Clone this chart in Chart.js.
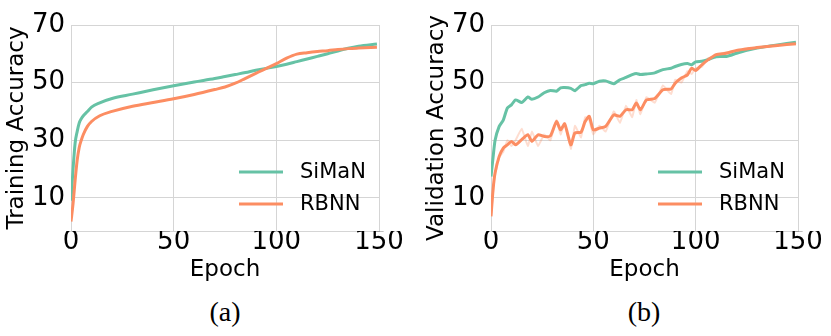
<!DOCTYPE html>
<html>
<head>
<meta charset="utf-8">
<script src="https://cdn.jsdelivr.net/npm/chart.js@4.4.1/dist/chart.umd.min.js"></script>
<style>
  html, body { margin: 0; padding: 0; background: #fff; }
  #wrap { position: relative; width: 831px; height: 336px; overflow: hidden; }
  .panel { position: absolute; top: 0; height: 290px; }
  .caption { position: absolute; top: 296px; width: 100px; text-align: center;
    font: 28px "Liberation Serif", "Times New Roman", serif; color: #000; }
</style>
</head>
<body>
<div id="wrap">
  <div class="panel" style="left:0;width:415px"><canvas id="trainChart" width="415" height="290"></canvas></div>
  <div class="panel" style="left:420px;width:411px"><canvas id="valChart" width="411" height="290"></canvas></div>
  <div class="caption" style="left:175px">(a)</div>
  <div class="caption" style="left:594px">(b)</div>
</div>
<script>
// ---- data ----
const xTicks = [0, 50, 100, 150];
const yTicks = [10, 30, 50, 70];

const trainEpochs = [0, 1, 2, 3, 4, 5, 6, 8, 10, 14, 20, 30, 40, 50, 60, 70, 75, 80, 85, 90,
  100, 105, 110, 115, 120, 125, 130, 135, 140, 149];
const trainSiman = [9, 20, 29, 33, 36, 37.5, 38.5, 40, 41.5, 43, 44.5, 46, 47.5, 48.9, 50.2, 51.4, 52.1, 52.8, 53.5, 54.3,
  55.6, 56.4, 57.3, 58.2, 59.1, 60, 61, 61.9, 62.6, 63.4];
const trainRbnn = [1.8, 8, 16, 23, 27.5, 30, 32, 34.8, 36.5, 38.5, 40, 41.8, 43.1, 44.4, 45.9, 47.6, 48.5, 49.8, 51.5, 53.2,
  56.6, 58.5, 59.9, 60.4, 60.8, 61.1, 61.5, 61.8, 62, 62.3];

const valEpochs = [0, 1, 2, 4, 6, 8, 10, 12, 15, 18, 20, 23, 26, 29, 32, 34, 36, 39, 41, 44,
  46, 48, 50, 53, 56, 60, 63, 66, 69, 71, 73, 76, 80, 84, 88, 90, 93, 96, 98, 100,
  103, 106, 110, 115, 120, 125, 130, 140, 149];
const valSiman = [17.4, 24, 30, 34.8, 37, 41.2, 42.3, 44, 43.1, 45, 44.2, 45, 46.5, 47.3, 47, 48.2, 48.3, 48, 47.2, 49,
  49.3, 49.8, 49.6, 50.5, 50.6, 49.6, 51, 51.8, 52.8, 53.2, 52.8, 53, 53.4, 54.5, 55, 55.6, 56.3, 56.6, 56.2, 57.2,
  57.4, 58, 59, 59.1, 60.2, 61.2, 62, 63.1, 64];
const valRbnn = [3.6, 12.8, 18.7, 24.4, 27.3, 28.4, 29.6, 28.4, 30.2, 31.9, 29.6, 31.9, 31.3, 31.5, 36.5, 33.6, 35.7, 28.4, 32.5, 32.8,
  36.5, 38.3, 33.6, 34.2, 34.8, 38.8, 38.3, 40.6, 40.6, 42.9, 40.6, 44, 44.5, 47.5, 47.8, 49.8, 51.6, 52.7, 55, 54.2,
  56.2, 57.9, 59.7, 60.2, 61.2, 61.7, 62.2, 62.9, 63.5];
// faint raw (unsmoothed) RBNN curve behind the smoothed one
const valRbnnRaw = [3.6, 12, 18, 24, 26, 30, 28, 30, 34, 28, 33, 28, 32, 30, 37, 32, 36, 27, 35, 31,
  38, 37, 32, 35, 33, 40, 36, 42, 38, 44, 39, 45, 43, 49, 46, 51, 50, 54, 53, 55,
  55.5, 58.5, 59.3, 60.6, 60.8, 62, 62, 63.2, 63.3];

const GREEN = "#66c2a5";
const ORANGE = "#fc8d62";
const GRID = "#d5d5d5";

Chart.defaults.font.family = "'DejaVu Sans', sans-serif";
Chart.defaults.color = "#000";

function pairs(xs, ys) {
  return xs.map((x, i) => ({ x: x, y: ys[i] }));
}

// legend in the lower right corner of the plot, no frame
const cornerLegend = {
  id: "cornerLegend",
  afterDatasetsDraw(chart) {
    const { ctx, chartArea } = chart;
    const items = chart.data.datasets.filter(d => d.inLegend);
    ctx.save();
    ctx.font = "21px 'DejaVu Sans'";
    ctx.textBaseline = "middle";
    ctx.fillStyle = "#000";
    items.forEach((d, i) => {
      const y = chartArea.bottom - 59 + i * 32;
      ctx.strokeStyle = d.borderColor;
      ctx.lineWidth = 3;
      ctx.beginPath();
      ctx.moveTo(chartArea.right - 140, y);
      ctx.lineTo(chartArea.right - 96, y);
      ctx.stroke();
      ctx.fillText(d.label, chartArea.right - 79, y + 1);
    });
    ctx.restore();
  }
};

function line(label, data, color, opts) {
  return Object.assign({
    label: label,
    data: data,
    borderColor: color,
    borderWidth: 3,
    pointRadius: 0,
    fill: false,
    inLegend: true
  }, opts || {});
}

function options(yTitle, padRight) {
  return {
    responsive: false,
    animation: false,
    layout: { padding: { left: 0, top: 25, right: padRight, bottom: 0 } },
    plugins: { legend: { display: false }, tooltip: { enabled: false } },
    scales: {
      x: {
        type: "linear",
        min: xTicks[0],
        max: xTicks[xTicks.length - 1],
        afterBuildTicks: s => { s.ticks = xTicks.map(v => ({ value: v })); },
        ticks: { autoSkip: false, maxRotation: 0, padding: 0, font: { size: 26, lineHeight: 0.9 } },
        grid: { color: GRID, drawTicks: false },
        border: { color: GRID },
        title: { display: true, text: "Epoch", font: { size: 23 }, padding: { top: 0, bottom: 6 } },
        afterFit: s => { s.height = 59; }
      },
      y: {
        min: -1.5,
        max: 70,
        afterBuildTicks: s => { s.ticks = yTicks.map(v => ({ value: v })); },
        ticks: { padding: 6, font: { size: 26 } },
        grid: { color: GRID, drawTicks: false },
        border: { color: GRID },
        title: { display: true, text: yTitle, font: { size: 23 }, padding: { top: 3, bottom: 0 } },
        afterFit: s => { s.width = 71; }
      }
    }
  };
}

new Chart(document.getElementById("trainChart"), {
  type: "line",
  data: {
    datasets: [
      line("SiMaN", pairs(trainEpochs, trainSiman), GREEN, { order: 2, cubicInterpolationMode: "monotone" }),
      line("RBNN", pairs(trainEpochs, trainRbnn), ORANGE, { order: 1, cubicInterpolationMode: "monotone" })
    ]
  },
  options: options("Training Accuracy", 36),
  plugins: [cornerLegend]
});

new Chart(document.getElementById("valChart"), {
  type: "line",
  data: {
    datasets: [
      line("SiMaN", pairs(valEpochs, valSiman), GREEN, { order: 2, tension: 0.2 }),
      line("RBNN", pairs(valEpochs, valRbnn), ORANGE, { order: 1, tension: 0.2 }),
      line("RBNN raw", pairs(valEpochs, valRbnnRaw), "rgba(252, 141, 98, 0.3)",
        { order: 3, borderWidth: 2, tension: 0.1, inLegend: false })
    ]
  },
  options: options("Validation Accuracy", 33),
  plugins: [cornerLegend]
});
</script>
</body>
</html>
